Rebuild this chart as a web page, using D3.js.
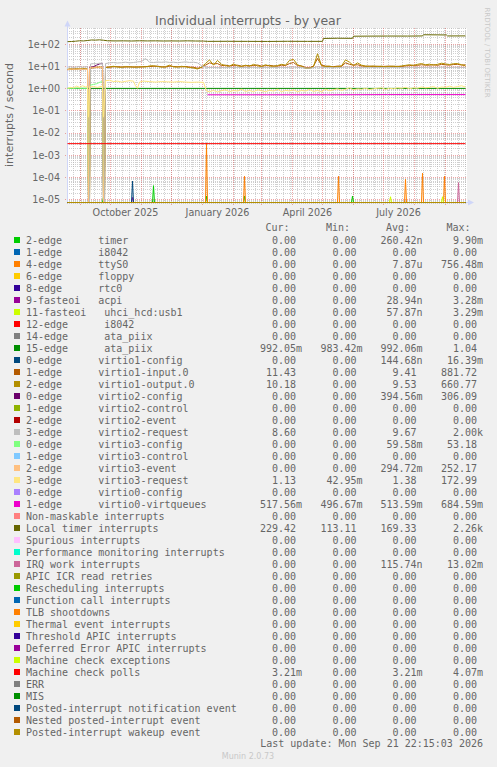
<!DOCTYPE html>
<html><head><meta charset="utf-8">
<script src="https://cdn.jsdelivr.net/npm/d3@7"></script>
<style>
html,body{margin:0;padding:0;background:#F0F0F0;}
svg{display:block;}
text{font-family:"DejaVu Sans",sans-serif;fill:#666666;}
.mono text{font-family:"DejaVu Sans Mono",monospace;font-size:10px;white-space:pre;}
</style></head><body>
<svg id="c" width="497" height="767"></svg>
<script>
// ---------------- DATA ----------------
const legendLabels = ["2-edge      timer","1-edge      i8042","4-edge      ttyS0","6-edge      floppy","8-edge      rtc0","9-fasteoi   acpi","11-fasteoi   uhci_hcd:usb1","12-edge      i8042","14-edge      ata_piix","15-edge      ata_piix","0-edge      virtio1-config","1-edge      virtio1-input.0","2-edge      virtio1-output.0","0-edge      virtio2-config","1-edge      virtio2-control","2-edge      virtio2-event","3-edge      virtio2-request","0-edge      virtio3-config","1-edge      virtio3-control","2-edge      virtio3-event","3-edge      virtio3-request","0-edge      virtio0-config","1-edge      virtio0-virtqueues","Non-maskable interrupts","Local timer interrupts","Spurious interrupts","Performance monitoring interrupts","IRQ work interrupts","APIC ICR read retries","Rescheduling interrupts","Function call interrupts","TLB shootdowns","Thermal event interrupts","Threshold APIC interrupts","Deferred Error APIC interrupts","Machine check exceptions","Machine check polls","ERR","MIS","Posted-interrupt notification event","Nested posted-interrupt event","Posted-interrupt wakeup event"];
const colors = ["#00CC00","#0066B3","#FF8000","#FFCC00","#330099","#990099","#CCFF00","#FF0000","#808080","#008F00","#00487D","#B35A00","#B38F00","#6B006B","#8FB300","#B30000","#BEBEBE","#80FF80","#80C9FF","#FFC080","#FFE680","#AA80FF","#EE00CC","#FF8080","#666600","#FFBFFF","#00FFCC","#CC6699","#999900","#00CC00","#0066B3","#FF8000","#FFCC00","#330099","#990099","#CCFF00","#FF0000","#808080","#008F00","#00487D","#B35A00","#B38F00"];
const curVals = ["0.00","0.00","0.00","0.00","0.00","0.00","0.00","0.00","0.00","992.05m","0.00","11.43","10.18","0.00","0.00","0.00","8.60","0.00","0.00","0.00","1.13","0.00","517.56m","0.00","229.42","0.00","0.00","0.00","0.00","0.00","0.00","0.00","0.00","0.00","0.00","0.00","3.21m","0.00","0.00","0.00","0.00","0.00"];
const minVals = ["0.00","0.00","0.00","0.00","0.00","0.00","0.00","0.00","0.00","983.42m","0.00","0.00","0.00","0.00","0.00","0.00","0.00","0.00","0.00","0.00","42.95m","0.00","496.67m","0.00","113.11","0.00","0.00","0.00","0.00","0.00","0.00","0.00","0.00","0.00","0.00","0.00","0.00","0.00","0.00","0.00","0.00","0.00"];
const avgVals = ["260.42n","0.00","7.87u","0.00","0.00","28.94n","57.87n","0.00","0.00","992.06m","144.68n","9.41","9.53","394.56m","0.00","0.00","9.67","59.58m","0.00","294.72m","1.38","0.00","513.59m","0.00","169.33","0.00","0.00","115.74n","0.00","0.00","0.00","0.00","0.00","0.00","0.00","0.00","3.21m","0.00","0.00","0.00","0.00","0.00"];
const maxVals = ["9.90m","0.00","756.48m","0.00","0.00","3.28m","3.29m","0.00","0.00","1.04","16.39m","881.72","660.77","306.09","0.00","0.00","2.00k","53.18","0.00","252.17","172.99","0.00","684.59m","0.00","2.26k","0.00","0.00","13.02m","0.00","0.00","0.00","0.00","0.00","0.00","0.00","0.00","4.07m","0.00","0.00","0.00","0.00","0.00"];

const yTickValues = [1e2,1e1,1e0,1e-1,1e-2,1e-3,1e-4,1e-5];
const yTickLabels = ["1e+02","1e+01","1e+00","1e-01","1e-02","1e-03","1e-04","1e-05"];
const xLabelMonths = ["2025-10-01","2026-01-01","2026-04-01","2026-07-01"];
const xTickLabels = ["October 2025","January 2026","April 2026","July 2026"];

// day index 0 = 2025-08-19
const bandDays = [0,3,6,9,12,15,18,20,21,22,23,26,29,32,35,36,37,38,42,46,50,54,58,62,66,70,74,78,82,86,90,94,98,102,106,110,114,118,122,126,130,134,138,142,146,150,154,158,162,166,170,174,178,182,186,190,194,198,202,206,210,214,218,222,226,230,234,238,242,246,250,254,258,262,266,270,274,278,282,286,290,294,298,302,306,310,314,318,322,326,330,334,338,342,346,350,354,358,362,366,370,374,378,382,386,390,394,398];
const inputVals = [6.8,7.2,7.5,7.1,7.9,7.3,7.7,7.4,0,0,8.0,8.4,9.0,8.5,8.3,0,0,
 8.8,8.9,9.3,9.4,9.1,9.0,9.4,8.9,9.2,9.0,9.6,9.5,9.8,9.9,9.3,9.0,10.0,9.6,9.3,9.2,9.6,9.0,8.8,8.0,8.6,11.0,14.0,12.5,13.0,10.5,11.0,10.2,10.8,11.0,10.0,10.4,10.5,10.6,11.2,10.0,10.5,10.8,10.2,10.0,11.0,10.6,13.0,14.5,10.5,10.2,8.6,8.4,10.0,22.0,11.0,10.0,9.6,9.4,10.0,9.8,14.0,12.0,11.0,11.5,10.2,9.8,10.0,9.6,9.9,9.5,9.8,10.0,9.6,9.8,9.6,10.2,10.5,11.0,10.8,11.5,11.0,11.0,11.6,10.8,12.0,11.4,11.0,11.8,12.0,11.2,11.4];
const outputVals = [7.2,7.6,7.0,7.8,7.4,8.0,7.5,7.8,0,0,8.5,9.0,8.6,9.2,8.8,0,0,
 8.6,9.2,9.8,9.0,8.8,9.6,9.0,9.3,8.9,9.5,9.1,10.2,10.4,9.6,9.0,9.4,11.0,9.2,9.0,9.8,9.2,8.6,8.2,7.4,9.0,13.0,19.0,11.0,18.0,12.0,10.5,9.8,12.5,10.2,9.6,11.0,9.8,12.0,10.3,9.5,11.5,10.0,9.8,10.6,12.0,11.0,18.0,20.0,11.5,9.8,8.0,7.8,9.5,36.0,10.5,9.6,10.0,9.0,9.5,10.2,19.0,15.0,10.5,14.0,11.0,10.0,9.6,10.2,9.5,10.0,9.2,9.6,10.0,9.4,10.2,10.8,11.5,10.6,12.0,13.0,11.5,12.2,11.0,12.0,13.5,12.5,11.8,12.8,13.0,11.5,10.2];
const v2reqVals = [9.0,9.4,8.8,9.2,9.6,9.0,9.3,9.5,0,0,12.5,13.0,12.8,13.5,13.2,0,0,
 13.0,14.0,14.5,13.8,14.2,15.0,14.0,14.5,15.5,16.0,22.0,15.0,14.5,15.2,14.8,15.5,14.6,15.0,14.2,14.8,15.5,14.6,15.0,14.0,10.5,9.0,8.6,8.8,8.4,8.7,8.5,8.8,8.6,8.9,8.5,8.7,8.6,8.9,8.4,8.6,8.8,8.5,8.7,8.6,8.9,8.5,9.0,9.2,8.7,8.5,8.2,8.0,8.4,9.5,8.8,8.6,8.5,8.4,8.6,8.7,9.2,9.0,8.6,8.8,8.5,8.6,8.4,8.7,8.5,8.6,8.4,8.5,8.7,8.4,8.6,8.8,8.7,8.9,8.6,8.8,8.7,8.9,8.6,8.8,9.0,8.8,8.6,8.9,8.8,8.7,8.6];

const v3reqDays = [0,3,6,9,12,15,18,20,21,22,26,30,35,36,38,42,46,50,54,58,62,66,68,70,72,76,82,88,94,100,106,112,118,124,130,136,139,142,146,150,154,158,162,166,170,174,178,182,186,190,194,198,202,206,210,214,218,222,226,230,234,238,242,246,250,254,258,262,266,270,274,278,282,286,290,294,298,302,306,310,314,318,322,326,330,334,338,342,346,350,354,358,362,366,370,374,378,382,386,390,394,398];
const v3reqVals = [1.0,1.1,1.05,1.25,1.1,1.3,1.15,1.2,0.05,1.15,1.2,1.1,1.25,0.05,2.2,2.3,2.0,2.1,1.9,2.05,2.2,2.1,1.3,1.0,1.9,2.1,2.0,1.9,2.0,1.95,1.9,2.0,1.9,1.85,1.9,1.85,0.75,0.7,0.8,0.68,0.78,0.85,0.7,0.8,0.75,0.9,0.72,0.8,0.7,0.85,0.78,0.7,0.82,0.75,0.9,0.7,0.8,0.76,0.85,0.7,0.8,0.75,0.88,0.72,0.8,0.7,0.9,0.78,0.85,0.95,0.8,0.9,1.05,0.85,0.95,0.9,1.0,0.88,0.95,1.0,1.05,0.9,1.0,0.95,1.05,1.0,1.1,0.95,1.05,1.0,1.15,1.05,1.1,1.2,1.0,1.15,1.1,1.25,1.1,1.2,1.3,1.13];

const ltDays = [0,4,8,12,16,20,24,28,32,36,40,48,56,64,72,80,88,96,104,112,120,128,136,140,160,180,200,220,240,255,256,270,285,286,300,320,340,355,356,370,379,380,398];
const ltVals = [126,128,132,138,136,142,150,148,152,146,138,136,137,135,138,136,137,135,136,135,137,135,134,130,131,130,129,131,130,130,176,180,178,222,224,226,225,228,258,255,252,228,229];

const v3evDays = [0,4,8,12,16,20,21,22,26,30,35,36];
const v3evVals = [7.0,7.3,7.1,7.5,7.2,7.4,0,8.2,8.6,8.4,8.8,0];
const v2cfgDays = [21,22,26,29,32,35,36];
const v2cfgVals = [0,8.5,9.5,11,12.5,13.4,0];
const v3cfgDays = [0,5,10,15,20,21,22,26,29,32,35,36];
const v3cfgVals = [1.0,1.0,1.02,1.0,1.0,0,1.35,1.5,1.6,1.85,2.0,0];
const ataDays = [0,100,200,300,398];
const ataVals = [0.99,0.99,0.99,0.99,0.99];
const vqDays = [140,200,260,320,398];
const vqVals = [0.51,0.51,0.51,0.52,0.52];
const mcpDays = [0,398];
const mcpVals = [0.00321,0.00321];

const timerSpikeDays = [36,86,139,177,285];
const timerSpikeVals = [1.3e-5,4.1e-5,1.4e-5,1.4e-5,1.4e-5];
const ttySpikeDays = [139,177,271,338,355,377];
const ttySpikeVals = [3.3e-3,1.1e-4,1.1e-4,7.9e-5,1.5e-4,1.1e-4];
const v1cfgSpikeDays = [65];
const v1cfgSpikeVals = [6.6e-5];
const acpiSpikeDays = [65];
const acpiSpikeVals = [1.2e-5];
const uhciSpikeDays = [323,375];
const uhciSpikeVals = [1.3e-5,1.3e-5];
const irqSpikeDays = [391];
const irqSpikeVals = [5.6e-5];

// ---------------- BUILD SERIES ----------------
const pairs = (ds, vs) => ds.map((d, i) => [d, vs[i]]);
const zeroSeries = [[0, 0], [398, 0]];
const spikes = (ds, vs) => {
  const pts = [[0, 0]];
  ds.forEach((d, i) => { pts.push([d - 1, 0], [d, vs[i]], [d + 1, 0]); });
  pts.push([398, 0]);
  return pts;
};
const seriesData = legendLabels.map(() => zeroSeries);
seriesData[0] = spikes(timerSpikeDays, timerSpikeVals);
seriesData[2] = spikes(ttySpikeDays, ttySpikeVals);
seriesData[5] = spikes(acpiSpikeDays, acpiSpikeVals);
seriesData[6] = spikes(uhciSpikeDays, uhciSpikeVals);
seriesData[9] = pairs(ataDays, ataVals);
seriesData[10] = spikes(v1cfgSpikeDays, v1cfgSpikeVals);
seriesData[11] = pairs(bandDays, inputVals);
seriesData[12] = pairs(bandDays, outputVals);
seriesData[13] = pairs(v2cfgDays, v2cfgVals);
seriesData[16] = pairs(bandDays, v2reqVals);
seriesData[17] = pairs(v3cfgDays, v3cfgVals);
seriesData[19] = pairs(v3evDays, v3evVals);
seriesData[20] = pairs(v3reqDays, v3reqVals);
seriesData[22] = pairs(vqDays, vqVals);
seriesData[24] = pairs(ltDays, ltVals);
seriesData[27] = spikes(irqSpikeDays, irqSpikeVals);
seriesData[36] = pairs(mcpDays, mcpVals);

// ---------------- SCALES ----------------
const L = 67, R = 467, T = 28, B = 203;
const svg = d3.select("#c");
svg.append("rect").attr("width", 497).attr("height", 767).attr("fill", "#F0F0F0");
svg.append("rect").attr("x", L).attr("y", T).attr("width", R - L).attr("height", B - T).attr("fill", "#FFFFFF");

const t0 = new Date(2025, 7, 19), t1 = new Date(2026, 8, 23);
const x = d3.scaleTime().domain([t0, t1]).range([L, R]);
const y = d3.scaleLog().domain([6.8e-6, 520]).range([B, T]);
const dayDate = d => d3.timeHour.offset(d3.timeDay.offset(t0, d), 12);
const yv = v => (v > y.domain()[0] ? y(v) : B - 0.5);

// ---------------- GRID ----------------
const grid = svg.append("g");
const minorY = [];
for (let e = -6; e <= 2; e++) for (let k = 2; k <= 9; k++) { const v = k * Math.pow(10, e); if (v > y.domain()[0] && v < y.domain()[1]) minorY.push(v); }
const weeks = d3.timeMonday.range(t0, t1);
const months = d3.timeMonth.range(t0, t1);
const px = v => Math.round(v) + 0.5;

grid.selectAll(".vmin").data(weeks).join("line")
  .attr("x1", d => px(x(d))).attr("x2", d => px(x(d))).attr("y1", T).attr("y2", B)
  .attr("stroke", "#b0b0b0").attr("stroke-opacity", 0.6).attr("stroke-dasharray", "1,1");
grid.selectAll(".hmin").data(minorY).join("line")
  .attr("x1", L).attr("x2", R).attr("y1", d => px(y(d))).attr("y2", d => px(y(d)))
  .attr("stroke", "#b0b0b0").attr("stroke-opacity", 0.6).attr("stroke-dasharray", "1,1");
grid.selectAll(".vmaj").data(months).join("line")
  .attr("x1", d => px(x(d))).attr("x2", d => px(x(d))).attr("y1", T).attr("y2", B + 3)
  .attr("stroke", "#de5050").attr("stroke-opacity", 0.5).attr("stroke-dasharray", "1,1");
grid.selectAll(".hmaj").data(yTickValues).join("line")
  .attr("x1", L - 2).attr("x2", R).attr("y1", d => px(y(d))).attr("y2", d => px(y(d)))
  .attr("stroke", "#de5050").attr("stroke-opacity", 0.5).attr("stroke-dasharray", "1,1");

// ---------------- AXES ----------------
const axisCol = "#CFD6F8";
svg.append("line").attr("x1", L + 0.5).attr("x2", L + 0.5).attr("y1", B).attr("y2", 24).attr("stroke", axisCol);
svg.append("line").attr("x1", L).attr("x2", 470).attr("y1", B - 0.5).attr("y2", B - 0.5).attr("stroke", axisCol);
svg.append("path").attr("d", `M${L + 0.5},20.5 L${L - 2.5},26.5 L${L + 3.5},26.5 Z`).attr("fill", axisCol);
svg.append("path").attr("d", `M474,${B - 0.5} L468,${B - 3.5} L468,${B + 2.5} Z`).attr("fill", axisCol);

const yAxis = d3.axisLeft(y).tickValues(yTickValues).tickSize(0).tickPadding(0)
  .tickFormat((d, i) => yTickLabels[i]);
const ya = svg.append("g").attr("transform", `translate(60,0)`).call(yAxis);
ya.select(".domain").remove();
ya.selectAll("text").attr("font-family", "DejaVu Sans").attr("font-size", 9.6).attr("fill", "#666666").attr("dy", "0.33em");

const xLabelDates = xLabelMonths.map(s => d3.timeDay.offset(d3.timeParse("%Y-%m-%d")(s), 15));
const xAxis = d3.axisBottom(x).tickValues(xLabelDates).tickSize(0).tickPadding(0)
  .tickFormat((d, i) => xTickLabels[i]);
const xa = svg.append("g").attr("transform", `translate(0,${B})`).call(xAxis);
xa.select(".domain").remove();
xa.selectAll("text").attr("font-family", "DejaVu Sans").attr("font-size", 9.6).attr("fill", "#666666").attr("dy", null).attr("y", 13);

// ---------------- LINES ----------------
const line = d3.line().defined(d => d[1] != null).x(d => x(dayDate(d[0]))).y(d => yv(d[1]));
const lines = svg.append("g").attr("clip-path", "url(#clp)");
svg.append("clipPath").attr("id", "clp").append("rect").attr("x", L).attr("y", T - 1).attr("width", R - L).attr("height", B - T + 1);
lines.selectAll("path").data(seriesData).join("path")
  .attr("d", d => line(d)).attr("fill", "none")
  .attr("stroke", (d, i) => colors[i]).attr("stroke-width", 1).attr("stroke-linejoin", "round");

// ---------------- TEXTS ----------------
svg.append("text").attr("x", 248).attr("y", 24.5).attr("text-anchor", "middle").attr("font-size", 12.5).text("Individual interrupts - by year");
svg.append("text").attr("transform", "translate(13,115) rotate(-90)").attr("text-anchor", "middle").attr("font-size", 11).text("interrupts / second");
svg.append("text").attr("transform", "translate(485,52.5) rotate(90)").attr("text-anchor", "middle").attr("font-size", 7).attr("fill", "#c8c8c8").style("fill", "#c8c8c8").text("RRDTOOL / TOBI OETIKER");

// ---------------- LEGEND ----------------
const leg = svg.append("g").attr("class", "mono");
const numEnd = [296, 356.5, 416.5, 477];
const heads = ["Cur:", "Min:", "Avg:", "Max:"];
leg.selectAll(".hd").data(heads).join("text").attr("x", (d, i) => numEnd[i] - 6.5).attr("y", 231).attr("text-anchor", "end").text(d => d);
const rows = leg.selectAll(".row").data(legendLabels).join("g").attr("transform", (d, i) => `translate(0,${240 + 12 * i})`);
rows.append("rect").attr("x", 14).attr("y", -3).attr("width", 6).attr("height", 6).attr("fill", (d, i) => colors[i]);
rows.append("text").attr("x", 26).attr("y", 3.5).text(d => d);
const split = s => { const m = s.match(/^([\d.]+)([a-zA-Z]?)$/); return [m[1], m[2]]; };
[curVals, minVals, avgVals, maxVals].forEach((arr, c) => {
  rows.append("text").attr("x", numEnd[c]).attr("y", 3.5).attr("text-anchor", "end").text((d, i) => split(arr[i])[0]);
  rows.append("text").attr("x", numEnd[c]).attr("y", 3.5).text((d, i) => split(arr[i])[1]);
});
leg.append("text").attr("x", 483).attr("y", 747).attr("text-anchor", "end").text("Last update: Mon Sep 21 22:15:03 2026");
svg.append("text").attr("x", 248).attr("y", 758.5).attr("text-anchor", "middle").attr("font-size", 8).style("fill", "#c8c8c8").text("Munin 2.0.73");
</script></body></html>
